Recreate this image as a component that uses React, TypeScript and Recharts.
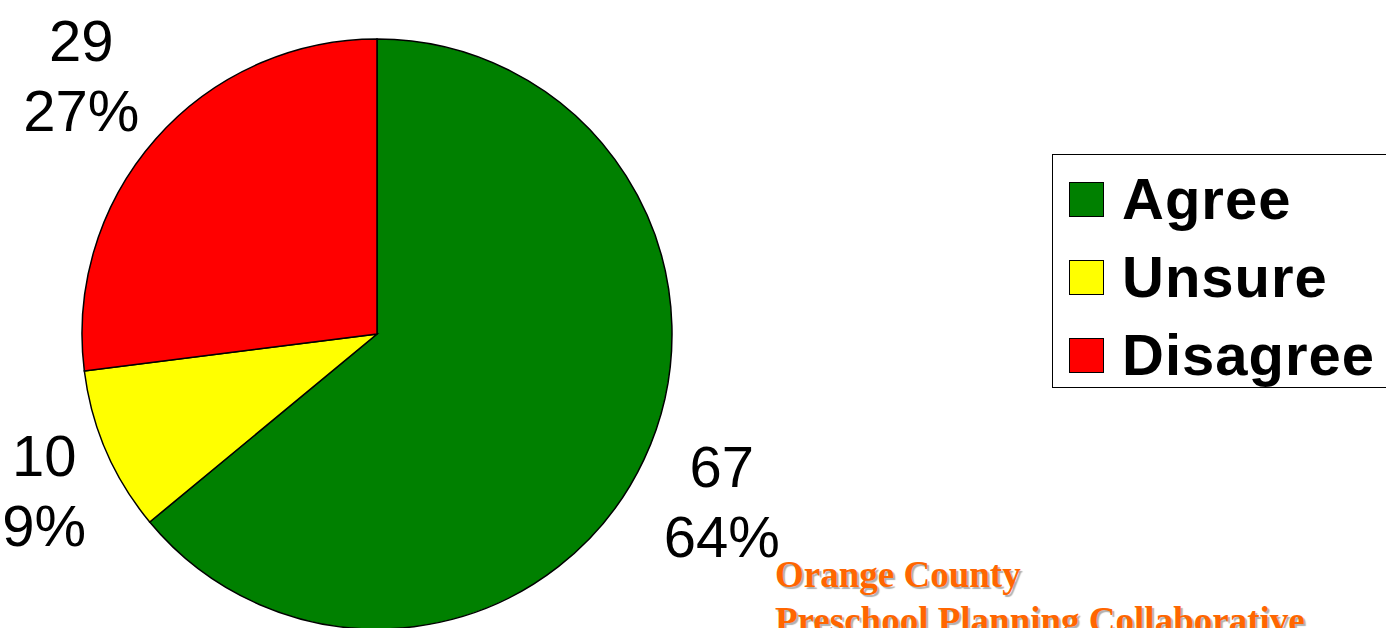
import { PieChart, Pie, Cell, Legend } from "recharts";

const categories = ["Agree", "Unsure", "Disagree"];
const counts = [67, 10, 29];
const percents = [64, 9, 27];
const colors = ["#008000", "#FFFF00", "#FF0000"];

const data = categories.map((name, i) => ({
  name,
  count: counts[i],
  percent: percents[i],
}));

const RAD = Math.PI / 180;
const LABEL_FONT = 58;

// rough Arial advance widths, enough to place the label box beside the pie
const textWidth = (s: string) =>
  s.split("").reduce((w, ch) => w + (ch === "%" ? 0.889 : 0.556), 0) * LABEL_FONT;

const renderLabel = (props: any) => {
  const { cx, cy, midAngle, outerRadius, index } = props;
  const dx = Math.cos(-midAngle * RAD);
  const dy = Math.sin(-midAngle * RAD);
  const lines = [String(counts[index]), percents[index] + "%"];
  const halfW = Math.max(...lines.map(textWidth)) / 2;
  const x = cx + (outerRadius + 22) * dx + Math.sign(dx) * halfW;
  const y = cy + (outerRadius + 97) * dy;
  return (
    <text
      x={x}
      y={y}
      textAnchor="middle"
      fill="#000"
      fontFamily="'Liberation Sans', Arial, sans-serif"
      fontSize={LABEL_FONT}
    >
      <tspan x={x} dy={-14}>
        {lines[0]}
      </tspan>
      <tspan x={x} dy={70}>
        {lines[1]}
      </tspan>
    </text>
  );
};

const LegendBox = () => (
  <div
    style={{
      border: "1.5px solid #000",
      width: 360,
      height: 234,
      boxSizing: "border-box",
      paddingTop: 5,
      paddingLeft: 16,
      background: "#fff",
    }}
  >
    {categories.map((c, i) => (
      <div
        key={c}
        style={{ display: "flex", alignItems: "center", height: 78 }}
      >
        <div
          style={{
            width: 35,
            height: 35,
            background: colors[i],
            border: "1.5px solid #000",
            boxSizing: "border-box",
            marginRight: 18,
          }}
        />
        <span
          style={{
            fontFamily: "'Liberation Sans', Arial, sans-serif",
            fontWeight: "bold",
            fontSize: 58,
            letterSpacing: 1,
            color: "#000",
            lineHeight: "78px",
          }}
        >
          {c}
        </span>
      </div>
    ))}
  </div>
);

export default function App() {
  return (
    <div
      style={{
        position: "absolute",
        left: 0,
        top: 0,
        width: 1386,
        height: 628,
        overflow: "hidden",
        background: "#fff",
      }}
    >
      <PieChart width={1386} height={628}>
        <Pie
          data={data}
          dataKey="percent"
          nameKey="name"
          cx={372}
          cy={329}
          outerRadius={295}
          startAngle={90}
          endAngle={-270}
          stroke="#000"
          strokeWidth={1.5}
          label={renderLabel}
          labelLine={false}
          isAnimationActive={false}
        >
          {data.map((d, i) => (
            <Cell key={d.name} fill={colors[i]} />
          ))}
        </Pie>
        <Legend
          content={() => <LegendBox />}
          wrapperStyle={{ position: "absolute", left: 1052, top: 154, width: 360 }}
        />
      </PieChart>
      <div
        style={{
          position: "absolute",
          left: 775,
          top: 552,
          fontFamily: "'Liberation Serif', 'Times New Roman', serif",
          fontWeight: "bold",
          fontSize: 37,
          lineHeight: "46px",
          color: "#FF6600",
          textShadow: "2px 2px 1px #b0b0b0",
          whiteSpace: "nowrap",
        }}
      >
        <div>Orange County</div>
        <div>Preschool Planning Collaborative</div>
      </div>
    </div>
  );
}
